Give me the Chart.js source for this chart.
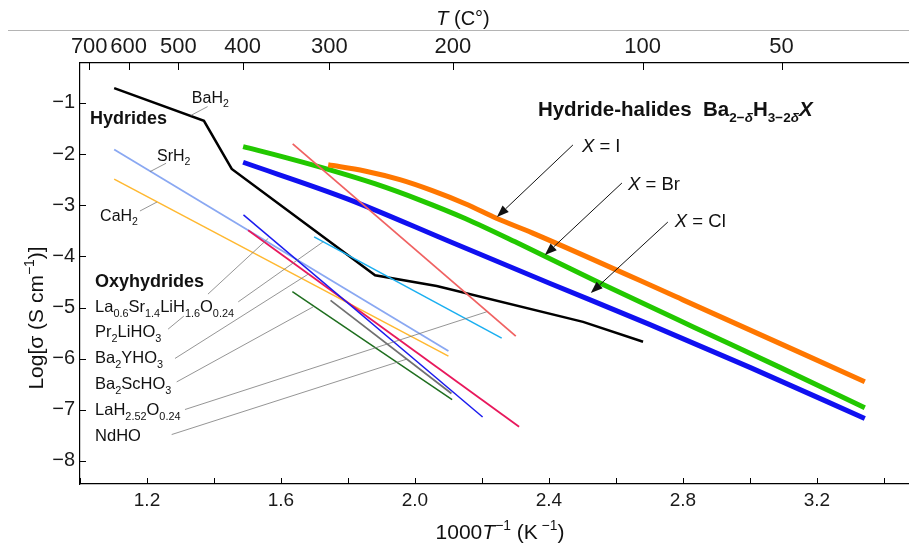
<!DOCTYPE html>
<html>
<head>
<meta charset="utf-8">
<script src="https://cdn.jsdelivr.net/npm/chart.js@4.4.1/dist/chart.umd.min.js"></script>
<style>
  html, body { margin: 0; padding: 0; background: #fff; }
  #wrap { width: 909px; height: 545px; }
</style>
</head>
<body>
<div id="wrap"><canvas id="chart" width="909" height="545"></canvas></div>
<script>
// x = 1000/T (K^-1), y = log10 conductivity (S/cm)
const xTickVals = [1.0, 1.2, 1.4, 1.6, 1.8, 2.0, 2.2, 2.4, 2.6, 2.8, 3.0, 3.2, 3.4];
const xLabelVals = [1.2, 1.6, 2.0, 2.4, 2.8, 3.2];
const yTickVals = [-8, -7, -6, -5, -4, -3, -2, -1];
const topTempsC = [700, 600, 500, 400, 300, 200, 100, 50];

// hydrides
const bah2 = [[1.102, -0.71], [1.370, -1.35], [1.453, -2.29], [1.881, -4.37], [2.065, -4.58], [2.502, -5.28], [2.681, -5.67]];
const srh2 = [[1.102, -1.91], [2.100, -5.85]];
const cah2 = [[1.102, -2.49], [2.100, -5.95]];

// oxyhydrides
const laSrLiHO = [[1.699, -3.62], [2.259, -5.60]];
const pr2LiHO3 = [[1.488, -3.19], [2.202, -7.14]];
const ba2YHO3 = [[1.502, -3.49], [2.311, -7.33]];
const ba2ScHO3 = [[1.634, -4.69], [2.111, -6.80]];
const laH252O = [[1.635, -1.80], [2.301, -5.56]];
const ndHO = [[1.748, -4.86], [2.109, -6.68]];

// hydride-halides Ba2-dH3-2dX
const halI = [[1.741, -2.21], [1.85, -2.33], [1.955, -2.50], [2.05, -2.71], [2.15, -2.97], [2.245, -3.26], [2.35, -3.54], [2.80, -4.85], [3.343, -6.45]];
const halBr = [[1.487, -1.855], [1.62, -2.08], [1.746, -2.31], [1.88, -2.58], [2.015, -2.90], [2.15, -3.26], [2.313, -3.76], [2.552, -4.52], [2.831, -5.38], [3.090, -6.17], [3.343, -6.96]];
const halCl = [[1.487, -2.16], [1.80, -2.88], [2.10, -3.70], [2.40, -4.52], [2.70, -5.33], [3.00, -6.17], [3.343, -7.17]];

const FONT = "'Liberation Sans', Arial, Helvetica, sans-serif";

// labels, leader lines and arrows (data units)
const textLabels = [
  { t: 'BaH_{2}', x: 1.334, y: -0.883, size: 16 },
  { t: 'Hydrides', x: 1.030, y: -1.294, size: 18, bold: true },
  { t: 'SrH_{2}', x: 1.230, y: -2.018, size: 16 },
  { t: 'CaH_{2}', x: 1.060, y: -3.192, size: 16 },
  { t: 'Oxyhydrides', x: 1.045, y: -4.464, size: 18, bold: true },
  { t: 'La_{0.6}Sr_{1.4}LiH_{1.6}O_{0.24}', x: 1.045, y: -4.973, size: 16.5 },
  { t: 'Pr_{2}LiHO_{3}', x: 1.045, y: -5.462, size: 16.5 },
  { t: 'Ba_{2}YHO_{3}', x: 1.045, y: -5.971, size: 16.5 },
  { t: 'Ba_{2}ScHO_{3}', x: 1.045, y: -6.479, size: 16.5 },
  { t: 'LaH_{2.52}O_{0.24}', x: 1.045, y: -6.988, size: 16.5 },
  { t: 'NdHO', x: 1.045, y: -7.497, size: 16.5 },
  { t: 'Hydride-halides  Ba_{2\u2212*\u03b4*}H_{3\u22122*\u03b4*}*X*', x: 2.367, y: -1.117, size: 20.5, bold: true },
  { t: '*X* = I', x: 2.4985, y: -1.822, size: 18.5 },
  { t: '*X* = Br', x: 2.636, y: -2.566, size: 18.5 },
  { t: '*X* = Cl', x: 2.776, y: -3.290, size: 18.5 }
];
const leaderLines = [
  [[1.381, -1.072], [1.331, -1.245]],
  [[1.257, -2.180], [1.209, -2.344]],
  [[1.179, -3.113], [1.230, -2.937]],
  [[1.263, -5.423], [1.310, -5.168]],
  [[1.382, -4.738], [1.562, -3.648]],
  [[1.4725, -4.889], [1.7263, -3.714]],
  [[1.2836, -5.996], [1.6824, -4.343]],
  [[1.2887, -6.454], [1.6964, -4.986]],
  [[1.3134, -6.994], [2.214, -5.084]],
  [[1.2737, -7.483], [1.975, -6.010]]
];
const arrows = [
  [[2.4716, -1.822], [2.2448, -3.231]],
  [[2.6179, -2.566], [2.388, -3.975]],
  [[2.755, -3.329], [2.525, -4.718]]
];

function parseRich(str) {
  const parts = [];
  let mode = 'n', italic = false, buf = '';
  const flush = () => { if (buf) parts.push({ t: buf, mode, italic }); buf = ''; };
  for (let i = 0; i < str.length; i++) {
    const c = str[i];
    if ((c === '_' || c === '^') && str[i + 1] === '{') { flush(); mode = c === '_' ? 'sub' : 'sup'; i++; }
    else if (c === '}' && mode !== 'n') { flush(); mode = 'n'; }
    else if (c === '*') { flush(); italic = !italic; }
    else buf += c;
  }
  flush();
  return parts;
}

function partFont(p, size, bold) {
  const s = p.mode === 'n' ? size : size * 0.66;
  return (p.italic ? 'italic ' : '') + (bold ? 'bold ' : '') + s + 'px ' + FONT;
}

// cy = vertical centre of capitals
function drawRich(ctx, str, x, cy, size, bold, align) {
  const parts = parseRich(str);
  let w = 0;
  parts.forEach(p => { ctx.font = partFont(p, size, bold); p.w = ctx.measureText(p.t).width; w += p.w; });
  let cx = align === 'center' ? x - w / 2 : x;
  const base = cy + size * 0.36;
  ctx.textAlign = 'left';
  ctx.textBaseline = 'alphabetic';
  parts.forEach(p => {
    ctx.font = partFont(p, size, bold);
    const dy = p.mode === 'sub' ? size * 0.28 : p.mode === 'sup' ? -size * 0.42 : 0;
    ctx.fillText(p.t, cx, base + dy);
    cx += p.w;
  });
}

const decorations = {
  id: 'decorations',
  afterDatasetsDraw(chart) {
    const { ctx, chartArea: a, scales } = chart;
    const X = v => scales.x.getPixelForValue(v);
    const Y = v => scales.y.getPixelForValue(v);
    ctx.save();

    // inward tick marks
    ctx.strokeStyle = '#000';
    ctx.lineWidth = 1;
    ctx.beginPath();
    xTickVals.forEach(v => { const p = Math.round(X(v)) + 0.5; ctx.moveTo(p, a.bottom); ctx.lineTo(p, a.bottom - 6); });
    scales.xTop.ticks.forEach(t => { const p = Math.round(scales.xTop.getPixelForValue(t.value)) + 0.5; ctx.moveTo(p, a.top); ctx.lineTo(p, a.top + 7); });
    yTickVals.forEach(v => { const p = Math.round(Y(v)) + 0.5; ctx.moveTo(a.left, p); ctx.lineTo(a.left + 6, p); });
    ctx.stroke();

    // leader lines
    ctx.strokeStyle = '#7a7a7a';
    ctx.lineWidth = 0.8;
    ctx.beginPath();
    leaderLines.forEach(([p, q]) => { ctx.moveTo(X(p[0]), Y(p[1])); ctx.lineTo(X(q[0]), Y(q[1])); });
    ctx.stroke();

    // arrows
    ctx.strokeStyle = '#111';
    ctx.fillStyle = '#111';
    ctx.lineWidth = 1;
    arrows.forEach(([p, q]) => {
      const x1 = X(p[0]), y1 = Y(p[1]), x2 = X(q[0]), y2 = Y(q[1]);
      const ang = Math.atan2(y2 - y1, x2 - x1);
      const L = 12, W = 4.5;
      const bx = x2 - L * Math.cos(ang), by = y2 - L * Math.sin(ang);
      ctx.beginPath(); ctx.moveTo(x1, y1); ctx.lineTo(bx, by); ctx.stroke();
      ctx.beginPath();
      ctx.moveTo(x2, y2);
      ctx.lineTo(bx + W * Math.sin(ang), by - W * Math.cos(ang));
      ctx.lineTo(bx - W * Math.sin(ang), by + W * Math.cos(ang));
      ctx.closePath(); ctx.fill();
    });

    // text labels
    ctx.fillStyle = '#111';
    textLabels.forEach(l => drawRich(ctx, l.t, X(l.x), Y(l.y), l.size, l.bold, 'left'));

    // axis titles
    drawRich(ctx, '1000*T*^{\u22121} (K^{ \u22121})', 500, 531, 21, false, 'center');
    drawRich(ctx, '*T* (C\u00b0)', 463, 18, 20, false, 'center');
    ctx.save();
    ctx.translate(35, 318);
    ctx.rotate(-Math.PI / 2);
    drawRich(ctx, 'Log[\u03c3 (S cm^{\u22121})]', 0, 0, 21, false, 'center');
    ctx.restore();

    // thin grey rule above the top axis
    ctx.strokeStyle = '#b4b4b4';
    ctx.lineWidth = 1;
    ctx.beginPath(); ctx.moveTo(8, 30.5); ctx.lineTo(909, 30.5); ctx.stroke();
    ctx.restore();
  }
};

function lineSet(data, color, width, smooth) {
  return {
    data: data.map(([x, y]) => ({ x, y })),
    borderColor: color,
    borderWidth: width,
    showLine: true,
    pointRadius: 0,
    fill: false,
    borderCapStyle: 'butt',
    tension: smooth ? 0.4 : 0,
    cubicInterpolationMode: smooth ? 'monotone' : 'default'
  };
}

const axisFont = size => ({ family: FONT, size });

new Chart(document.getElementById('chart'), {
  type: 'scatter',
  data: {
    datasets: [
      lineSet(laH252O, '#f06262', 1.8),
      lineSet(pr2LiHO3, '#1a1aee', 1.5),
      lineSet(ba2YHO3, '#e8185c', 1.8),
      lineSet(laSrLiHO, '#1aaff0', 1.5),
      lineSet(ndHO, '#707070', 1.8),
      lineSet(ba2ScHO3, '#1e6e1e', 1.5),
      lineSet(srh2, '#8aa8f2', 1.8),
      lineSet(cah2, '#ffb830', 1.5),
      lineSet(bah2, '#000000', 2.5),
      lineSet(halI, '#ff7700', 5, true),
      lineSet(halBr, '#22c800', 5, true),
      lineSet(halCl, '#1010f0', 5, true)
    ]
  },
  options: {
    responsive: false,
    devicePixelRatio: 1,
    animation: false,
    events: [],
    layout: { padding: 0 },
    plugins: { legend: { display: false }, tooltip: { enabled: false } },
    scales: {
      x: {
        type: 'linear', position: 'bottom', min: 1.0, max: 3.475,
        afterBuildTicks: s => { s.ticks = xTickVals.map(v => ({ value: v })); },
        afterFit: s => { s.height = 61; },
        ticks: {
          autoSkip: false, maxRotation: 0, padding: 5, color: '#1a1a1a', font: axisFont(19),
          callback: v => xLabelVals.some(l => Math.abs(l - v) < 1e-6) ? v.toFixed(1) : ''
        },
        grid: { drawOnChartArea: false, drawTicks: false },
        border: { color: '#000', width: 1.2 }
      },
      xTop: {
        type: 'linear', position: 'top', min: 1.0, max: 3.475,
        afterBuildTicks: s => { s.ticks = topTempsC.map(t => ({ value: 1000 / (t + 273.15) })); },
        afterFit: s => { s.height = 63; },
        ticks: {
          autoSkip: false, maxRotation: 0, padding: 3, color: '#1a1a1a', font: axisFont(22),
          callback: (v, i) => String(topTempsC[i])
        },
        grid: { drawOnChartArea: false, drawTicks: false },
        border: { color: '#000', width: 1.2 }
      },
      y: {
        type: 'linear', position: 'left', min: -8.45, max: -0.22,
        afterBuildTicks: s => { s.ticks = yTickVals.map(v => ({ value: v })); },
        afterFit: s => { s.width = 80; },
        ticks: {
          padding: 5, color: '#1a1a1a', font: axisFont(20),
          callback: v => '\u2212' + Math.abs(v)
        },
        grid: { drawOnChartArea: false, drawTicks: false },
        border: { color: '#000', width: 1.2 }
      }
    }
  },
  plugins: [decorations]
});
</script>
</body>
</html>
